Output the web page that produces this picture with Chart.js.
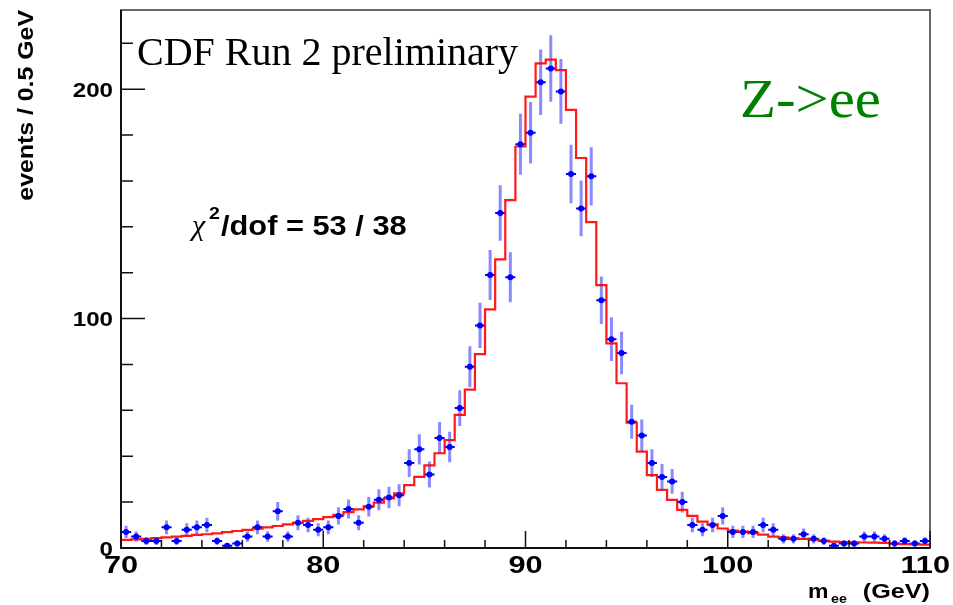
<!DOCTYPE html>
<html>
<head>
<meta charset="utf-8">
<title>CDF Run 2 preliminary - Z->ee</title>
<script src="https://cdn.jsdelivr.net/npm/chart.js@4.4.1/dist/chart.umd.min.js"></script>
<style>
  html, body { margin: 0; padding: 0; background: #fff; }
  canvas { display: block; }
</style>
</head>
<body>
<canvas id="zeeChart" width="953" height="605"></canvas>
<script>
// --- histogram definition: 80 bins of 0.5 GeV from 70 to 110
const binLow = 70;
const binWidth = 0.5;

// --- data: events per bin (blue points)
const dataCounts = [
  7, 5, 3, 3, 9, 3, 8, 9, 10, 3,
  1, 2, 5, 9, 5, 16, 5, 11, 10, 8,
  9, 14, 17, 11, 18, 21, 22, 23, 37, 43,
  32, 48, 44, 61, 79, 97, 119, 146, 118, 176,
  181, 203, 209, 199, 163, 148, 162, 108, 91, 85,
  55, 49, 37, 31, 29, 20, 10, 8, 10, 14,
  7, 7, 7, 10, 8, 4, 4, 6, 4, 3,
  1, 2, 2, 5, 5, 4, 2, 3, 2, 3
];

// --- expectation per bin (red histogram)
const fitValues = [
  3.5, 3.8, 4.0, 4.3, 4.6, 5.0, 5.3, 5.7, 6.0, 6.4,
  6.9, 7.4, 7.9, 8.4, 9.0, 9.6, 10.3, 11.0, 11.8, 12.6,
  13.5, 14.5, 15.6, 16.8, 18.2, 19.8, 21.6, 23.8, 27.4, 31,
  36, 41.3, 47, 58, 69, 84.5, 104, 125.8, 151.6, 175,
  196.7, 211.2, 212.9, 208.3, 191, 170, 142, 114.6, 89.2, 71.8,
  54.6, 42, 31.8, 25.3, 21, 16.6, 14, 11.5, 10.3, 8.5,
  7.6, 7.1, 6.5, 5.8, 5.0, 4.6, 4.2, 4.0, 3.6, 3.2,
  2.8, 2.6, 2.5, 2.4, 2.3, 2.2, 1.8, 1.7, 1.6, 1.5
];

// --- axis ticks
const xTicks = [70, 80, 90, 100, 110];
const yTicks = [0, 100, 200];
const xMinorStep = 2;
const yMinorStep = 20;
const xRange = [70, 110];
const yRange = [0, 234.5];

const binCentres = dataCounts.map((_, i) => binLow + binWidth * (i + 0.5));
const pointData = dataCounts.map((n, i) => ({ x: binCentres[i], y: n }));
const histData = fitValues.map((v, i) => ({ x: binLow + binWidth * i, y: v }));
histData.push({ x: binLow + binWidth * fitValues.length, y: fitValues[fitValues.length - 1] });

const SANS = '"Liberation Sans", Arial, sans-serif';
const SERIF = '"Liberation Serif", "Times New Roman", serif';

// teks dengan skala horizontal (ROOT text looks a bit stretched)
function drawText(ctx, txt, x, y, font, color, align, sx) {
  ctx.save();
  ctx.font = font;
  ctx.fillStyle = color;
  ctx.textAlign = align;
  ctx.textBaseline = 'alphabetic';
  ctx.translate(x, y);
  ctx.scale(sx || 1, 1);
  ctx.fillText(txt, 0, 0);
  ctx.restore();
}

// --- error bars under the markers
const errorBarPlugin = {
  id: 'errorBars',
  beforeDatasetsDraw(chart) {
    const { ctx, chartArea, scales: { x, y } } = chart;
    ctx.save();
    ctx.beginPath();
    ctx.rect(chartArea.left, chartArea.top, chartArea.width, chartArea.height);
    ctx.clip();
    // vertical sqrt(N)
    ctx.strokeStyle = 'rgba(60,60,255,0.6)';
    ctx.lineWidth = 3;
    ctx.beginPath();
    dataCounts.forEach((n, i) => {
      const px = x.getPixelForValue(binCentres[i]);
      const e = Math.sqrt(n);
      ctx.moveTo(px, y.getPixelForValue(n + e));
      ctx.lineTo(px, y.getPixelForValue(n - e));
    });
    ctx.stroke();
    // horizontal bin width
    ctx.strokeStyle = '#0000ff';
    ctx.lineWidth = 2;
    ctx.beginPath();
    dataCounts.forEach((n, i) => {
      const py = y.getPixelForValue(n);
      ctx.moveTo(x.getPixelForValue(binCentres[i] - binWidth / 2), py);
      ctx.lineTo(x.getPixelForValue(binCentres[i] + binWidth / 2), py);
    });
    ctx.stroke();
    ctx.restore();
  }
};

// --- frame, ticks, labels, texts
const framePlugin = {
  id: 'rootFrame',
  afterDraw(chart) {
    const { ctx, chartArea: { left, right, top, bottom }, scales: { x, y } } = chart;
    ctx.save();
    // frame
    ctx.strokeStyle = '#666';
    ctx.lineWidth = 2;
    ctx.strokeRect(left, top, right - left, bottom - top);
    ctx.strokeStyle = '#111';
    ctx.beginPath();
    ctx.moveTo(left, top); ctx.lineTo(left, bottom); ctx.lineTo(right, bottom);
    ctx.stroke();

    // ticks
    ctx.lineWidth = 1.5;
    ctx.beginPath();
    for (let v = yRange[0]; v <= yRange[1]; v += yMinorStep) {
      const py = y.getPixelForValue(v);
      ctx.moveTo(left, py);
      ctx.lineTo(left + (yTicks.includes(v) ? 24 : 12), py);
    }
    for (let v = xRange[0]; v <= xRange[1]; v += xMinorStep) {
      const px = x.getPixelForValue(v);
      ctx.moveTo(px, bottom);
      ctx.lineTo(px, bottom - (xTicks.includes(v) ? 17 : 8));
    }
    ctx.stroke();
    ctx.restore();

    // tick labels
    yTicks.forEach(v => drawText(ctx, String(v), left - 8, y.getPixelForValue(v) + 7.5, 'bold 21px ' + SANS, '#000', 'right', 1.15));
    ctx.save();
    ctx.font = 'bold 24px ' + SANS;
    xTicks.forEach(v => {
      const w = ctx.measureText(String(v)).width * 1.28;
      // keep the last label inside the canvas
      const cx = Math.min(x.getPixelForValue(v), chart.width - 3 - w / 2);
      drawText(ctx, String(v), cx, bottom + 25, 'bold 24px ' + SANS, '#000', 'center', 1.28);
    });
    ctx.restore();

    // axis titles
    ctx.save();
    ctx.translate(33, top);
    ctx.rotate(-Math.PI / 2);
    drawText(ctx, 'events / 0.5 GeV', 0, 0, 'bold 22px ' + SANS, '#000', 'right', 1.13);
    ctx.restore();
    drawText(ctx, 'm', 808, 598, 'bold 20px ' + SANS, '#000', 'left', 1.15);
    drawText(ctx, 'ee', 831, 603, 'bold 13px ' + SANS, '#000', 'left', 1.1);
    drawText(ctx, '(GeV)', 930, 598, 'bold 21px ' + SANS, '#000', 'right', 1.2);

    // labels on the plot
    drawText(ctx, 'CDF Run 2 preliminary', 137, 65, '40px ' + SERIF, '#000', 'left', 1);
    drawText(ctx, 'Z->ee', 740, 117, '55px ' + SERIF, '#008000', 'left', 1.07);
    drawText(ctx, '\u03C7', 192, 235, 'italic 30px ' + SERIF, '#000', 'left', 1);
    drawText(ctx, '2', 209, 219, 'bold 17px ' + SANS, '#000', 'left', 1.15);
    drawText(ctx, '/dof = 53 / 38', 221, 235, 'bold 27px ' + SANS, '#000', 'left', 1.14);
  }
};

window.addEventListener('load', () => {
  const ctx = document.getElementById('zeeChart').getContext('2d');
  new Chart(ctx, {
    type: 'scatter',
    data: {
      datasets: [
        {
          label: 'data',
          data: pointData,
          pointStyle: 'circle',
          pointRadius: 3,
          pointBackgroundColor: '#0000ff',
          pointBorderWidth: 0,
          showLine: false
        },
        {
          label: 'fit',
          type: 'line',
          data: histData,
          stepped: true,
          borderColor: 'rgba(255,0,0,0.9)',
          borderWidth: 2.2,
          pointRadius: 0,
          fill: false
        }
      ]
    },
    options: {
      responsive: false,
      animation: false,
      layout: { padding: { left: 121, right: 23, top: 10, bottom: 57 } },
      scales: {
        x: { type: 'linear', min: xRange[0], max: xRange[1], display: false },
        y: { type: 'linear', min: yRange[0], max: yRange[1], display: false }
      },
      plugins: { legend: { display: false }, tooltip: { enabled: false } }
    },
    plugins: [errorBarPlugin, framePlugin]
  });
});
</script>
</body>
</html>
